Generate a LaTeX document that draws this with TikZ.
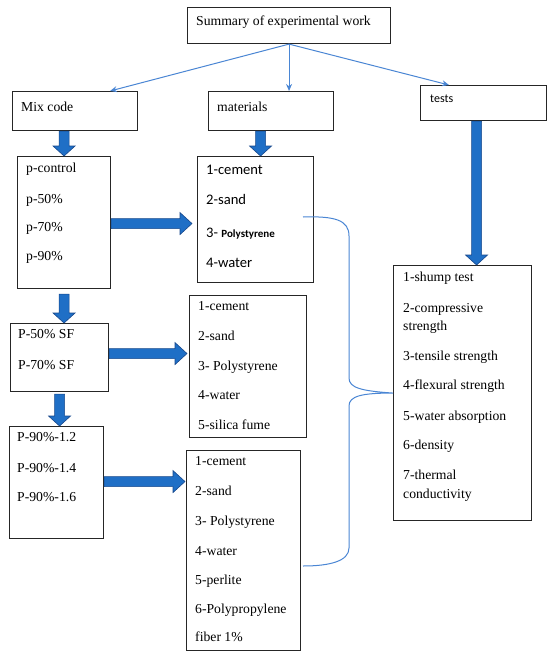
\documentclass[tikz,border=0pt]{standalone}
\usepackage{fontspec}
\setmainfont{Liberation Serif}
\newfontfamily\calfont{Carlito}
\usetikzlibrary{calc,arrows.meta}
\definecolor{abl}{RGB}{31,111,198}
\definecolor{abd}{RGB}{24,72,140}
\definecolor{lbl}{RGB}{74,134,212}
\tikzset{
  box/.style={draw=black!85, line width=1.1pt, anchor=north west, inner sep=0pt},
  txt/.style={anchor=mid west, inner sep=0pt, font=\fontsize{13.7}{16}\selectfont},
  ctxt/.style={anchor=mid west, inner sep=0pt, font=\calfont\fontsize{14.6}{17}\selectfont},
  barrow/.style={fill=abl, draw=abd, line width=0.6pt, line join=miter},
  link/.style={draw=lbl, line width=1pt},
  linkarrow/.style={link, -{Stealth[length=7pt,width=6pt]}}
}
\newcommand\bdown[2]{\path[barrow] let \p1=#1, \p2=#2 in
  (\x1-5pt,\y1) -- (\x1+5pt,\y1) -- (\x1+5pt,\y2+10pt) -- (\x1+11pt,\y2+10pt)
  -- (\x1,\y2) -- (\x1-11pt,\y2+10pt) -- (\x1-5pt,\y2+10pt) -- cycle;}
\newcommand\bright[2]{\path[barrow] let \p1=#1, \p2=#2 in
  (\x1,\y1+5pt) -- (\x2-12pt,\y1+5pt) -- (\x2-12pt,\y1+11pt) -- (\x2,\y1)
  -- (\x2-12pt,\y1-11pt) -- (\x2-12pt,\y1-5pt) -- (\x1,\y1-5pt) -- cycle;}
\begin{document}
\begin{tikzpicture}[x=1pt,y=-1pt]
\fill[white] (0,0) rectangle (550,657);
\useasboundingbox (0,0) rectangle (550,657);

% boxes
\node[box, minimum width=203pt, minimum height=36pt] (sum) at (187,7) {};
\node[box, minimum width=125pt, minimum height=39pt] (mix) at (12,91) {};
\node[box, minimum width=125pt, minimum height=39pt] (mat) at (208,91) {};
\node[box, minimum width=126pt, minimum height=35pt] (tst) at (420,85) {};
\node[box, minimum width=93pt, minimum height=132pt] (pc) at (17,156) {};
\node[box, minimum width=116pt, minimum height=126pt] (m1) at (197,156) {};
\node[box, minimum width=98pt, minimum height=68pt] (p50) at (10,323) {};
\node[box, minimum width=117pt, minimum height=142pt] (m2) at (189,295) {};
\node[box, minimum width=94pt, minimum height=112pt] (p90) at (9,426) {};
\node[box, minimum width=114pt, minimum height=200pt] (m3) at (186,450) {};
\node[box, minimum width=138pt, minimum height=255pt] (tb) at (393,265) {};

% headings
\node[txt] (sumt) at (196,23) {Summary of experimental work};
\node[txt] (mixt) at (21,109) {Mix code};
\node[txt] (matt) at (217,109) {materials};
\node[ctxt, font=\calfont\fontsize{12}{14}\selectfont] (tstt) at (430,100) {tests};

% mix code lists
\foreach \t/\y [count=\i] in {p-control/170, p-50\%/201, p-70\%/229, p-90\%/258}
  \node[txt] (pc-\i) at (26,\y) {\t};
\foreach \t/\y [count=\i] in {P-50\% SF/336, P-70\% SF/367}
  \node[txt] (p50-\i) at (18,\y) {\t};
\foreach \t/\y [count=\i] in {P-90\%-1.2/439, P-90\%-1.4/470, P-90\%-1.6/499}
  \node[txt] (p90-\i) at (17,\y) {\t};

% materials lists
\node[ctxt] (m1-1) at (206,172) {1-cement};
\node[ctxt] (m1-2) at (206,202) {2-sand};
\node[ctxt] (m1-3) at (206,235) {3- {\fontsize{11}{13}\selectfont\bfseries Polystyrene}};
\node[ctxt] (m1-4) at (206,265) {4-water};
\foreach \t/\y [count=\i] in {1-cement/308, 2-sand/338, 3- Polystyrene/368, 4-water/397, 5-silica fume/427}
  \node[txt] (m2-\i) at (198,\y) {\t};
\foreach \t/\y [count=\i] in {1-cement/463, 2-sand/493, 3- Polystyrene/523, 4-water/553, 5-perlite/582, 6-Polypropylene/611, fiber 1\%/639}
  \node[txt] (m3-\i) at (195,\y) {\t};

% tests list
\foreach \t/\y [count=\i] in {1-shump test/279, 2-compressive/310, strength/328, 3-tensile strength/358, 4-flexural strength/387, 5-water absorption/418, 6-density/447, 7-thermal/477, conductivity/496}
  \node[txt] (tb-\i) at (403,\y) {\t};

% thin arrows from summary
\draw[linkarrow] (sum.south) -- ($(mix.north)+(35,0)$);
\draw[linkarrow] (sum.south) -- (sum.south |- mat.north);
\draw[linkarrow] (sum.south) -- ($(tst.north west)+(29,0)$);

% block arrows
\bdown{(mix.south -| pc.north)}{(pc.north)}
\bdown{($(mat.south -| m1.north)+(5,0)$)}{(m1.north)}
\bdown{($(tst.south -| tb.north)+(14,0)$)}{(tb.north)}
\bdown{($(pc.south)+(0,5)$)}{(p50.north)}
\bdown{($(p50.south)+(0,2)$)}{(p90.north)}
\bright{($(pc.east)+(0,1)$)}{($(m1.west)+(-5,0)$)}
\bright{($(p50.east)+(0,-4)$)}{($(m2.west)+(-2,0)$)}
\bright{($(p90.east)+(0,-1)$)}{($(m3.west)+(-1,0)$)}

% brace connector
\coordinate (bs) at (303,217);
\coordinate (be) at (303,566);
\draw[link] (bs) .. controls (335,216) and (349,220) .. (349,236) -- (349,378)
  .. controls (349,388) and (362,391) .. (tb.west)
  .. controls (362,393) and (349,396) .. (349,406) -- (349,548)
  .. controls (349,561) and (330,566) .. (be);
\end{tikzpicture}
\end{document}
